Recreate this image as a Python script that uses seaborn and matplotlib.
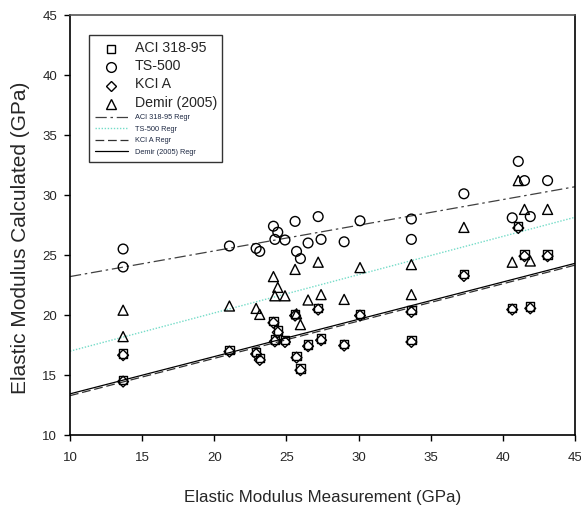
import matplotlib
matplotlib.use("Agg")
import matplotlib.pyplot as plt
import seaborn as sns
import pandas as pd

# Measured elastic modulus (GPa) of each specimen
meas = [13.68, 13.68, 21.05, 22.9, 23.15, 24.1, 24.2, 24.4, 24.9, 25.6, 25.7, 25.97,
        26.5, 27.2, 27.4, 29.0, 30.1, 33.66, 33.66, 37.3, 40.65, 41.07, 41.5, 41.9, 43.1]
# Calculated elastic modulus (GPa) by each code / model
aci = [16.8, 14.6, 17.1, 16.9, 16.4, 19.5, 17.95, 18.7, 17.9, 20.1, 16.6, 15.55,
       17.55, 20.6, 18.05, 17.6, 20.1, 20.4, 17.9, 23.4, 20.6, 27.4, 25.05, 20.7, 25.05]
ts500 = [25.5, 24.0, 25.75, 25.55, 25.3, 27.4, 26.3, 26.9, 26.25, 27.8, 25.3, 24.7,
         26.0, 28.2, 26.3, 26.1, 27.85, 28.0, 26.3, 30.1, 28.1, 32.8, 31.2, 28.2, 31.2]
kci = [16.65, 14.45, 16.95, 16.75, 16.25, 19.35, 17.8, 18.55, 17.75, 19.95, 16.45, 15.4,
       17.4, 20.45, 17.9, 17.45, 19.95, 20.25, 17.75, 23.25, 20.45, 27.25, 24.9, 20.55, 24.9]
demir = [20.4, 18.2, 20.75, 20.55, 20.05, 23.2, 21.6, 22.3, 21.6, 23.8, 20.1, 19.2,
         21.25, 24.4, 21.7, 21.3, 23.95, 24.2, 21.7, 27.3, 24.4, 31.2, 28.8, 24.5, 28.8]

series_names = ["ACI 318-95", "TS-500", "KCI A", "Demir (2005)"]
regr_names = ["ACI 318-95 Regr", "TS-500 Regr", "KCI A Regr", "Demir (2005) Regr"]
x_ticks = [10, 15, 20, 25, 30, 35, 40, 45]
y_ticks = [10, 15, 20, 25, 30, 35, 40, 45]

df = pd.DataFrame({
    "meas": meas * 4,
    "calc": aci + ts500 + kci + demir,
    "model": sum([[n] * len(meas) for n in series_names], []),
})

sns.set_style("white")
plt.rcParams["font.family"] = ["Liberation Sans", "DejaVu Sans"]

fig = plt.figure(figsize=(5.81, 5.11), dpi=100)
ax = fig.add_axes([70 / 581, 1 - 435 / 511, 505 / 581, 420 / 511])
ax.set_xlim(10, 45)
ax.set_ylim(10, 45)

markers = {"ACI 318-95": "s", "TS-500": "o", "KCI A": "D", "Demir (2005)": "^"}
sizes = {"ACI 318-95": 6.0, "TS-500": 7.0, "KCI A": 5.5, "Demir (2005)": 7.2}
mhandles = []
for name in series_names:
    sub = df[df["model"] == name]
    sns.scatterplot(data=sub, x="meas", y="calc", marker=markers[name],
                    s=sizes[name] ** 2, facecolor="none", edgecolor="black",
                    linewidth=1.0, ax=ax, legend=False, zorder=3)
    mhandles.append(plt.Line2D([], [], ls="none", marker=markers[name],
                               markersize=sizes[name], mfc="none",
                               mec="black", mew=1.0))

# regression lines (styles as they appear in the reference)
line_specs = [
    (ts500, dict(color="#404040", lw=0.9, dashes=(9, 3, 2, 3))),
    (demir, dict(color="#74dcc8", lw=1.0, dashes=(1, 1.2))),
    (kci, dict(color="#303030", lw=0.9, dashes=(7, 3))),
    (aci, dict(color="black", lw=0.9, ls="-")),
]
lhandles = []
for yvals, kw in line_specs:
    sns.regplot(x=meas, y=yvals, scatter=False, ci=None, truncate=False, ax=ax,
                line_kws=kw)
    lhandles.append(ax.lines[-1])

ax.set_xlim(10, 45)
ax.set_ylim(10, 45)
ax.set_xticks(x_ticks)
ax.set_yticks(y_ticks)
ax.tick_params(axis="both", which="both", direction="out", length=4.3, width=1,
               color="black", labelsize=9.5, bottom=True, left=True)
ax.tick_params(axis="x", pad=8)
ax.tick_params(axis="y", pad=5)
for s in ["left", "bottom", "right"]:
    ax.spines[s].set_color("black")
    ax.spines[s].set_linewidth(1.2)
ax.spines["top"].set_color("#555555")
ax.spines["top"].set_linewidth(1.2)

ax.set_xlabel("Elastic Modulus Measurement (GPa)", fontsize=12.2, labelpad=19)
ax.set_ylabel("Elastic Modulus Calculated (GPa)", fontsize=15)
ax.yaxis.set_label_coords(-0.08, (435 - 238) / 420)

fs_small = 5.3
fs_px = fs_small * 100 / 72
leg = ax.legend(mhandles + lhandles, series_names + regr_names,
                loc="upper left", bbox_to_anchor=(19 / 505, 1 - 20 / 420),
                borderaxespad=0,
                fontsize=fs_small, frameon=True, fancybox=False, edgecolor="black",
                handlelength=33 / fs_px, handletextpad=7 / fs_px,
                borderpad=0.75, labelspacing=0.6)
leg.get_frame().set_linewidth(1.0)
for i, t in enumerate(leg.get_texts()):
    if i < 4:
        t.set_fontsize(10.2)
    else:
        t.set_color("#1f2a44")

fig.savefig("out.png", dpi=100)
